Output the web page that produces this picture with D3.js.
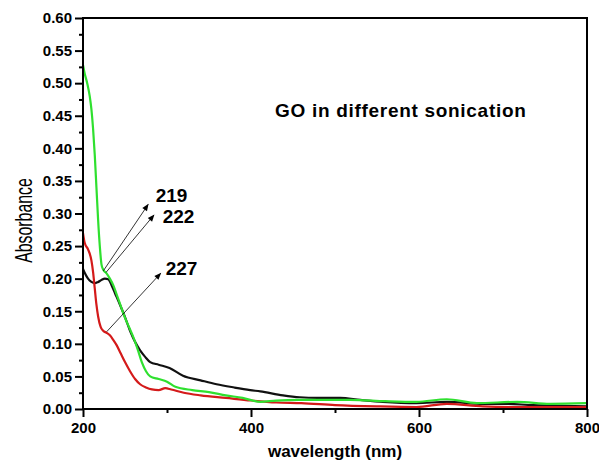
<!DOCTYPE html>
<html>
<head>
<meta charset="utf-8">
<script src="https://cdn.jsdelivr.net/npm/d3@7"></script>
<style>
  body { margin: 0; background: #fff; }
  text { font-family: "Liberation Sans", Arial, sans-serif; }
</style>
</head>
<body>
<div class="chart"></div>
<script>
// wavelength (nm) / absorbance
var blackWl = [200,202,206,210,214,218,222,226,230,234,238,244,250,256,262,268,274,280,290,303,319,340,359,380,399,411,438,458,479,506,530,557,597,633,676,700,736,770,800];
var blackAbs = [0.215,0.209,0.200,0.195,0.193,0.195,0.198,0.200,0.199,0.190,0.178,0.160,0.141,0.120,0.103,0.090,0.080,0.072,0.068,0.063,0.051,0.044,0.038,0.033,0.029,0.027,0.021,0.018,0.017,0.017,0.014,0.011,0.009,0.011,0.008,0.008,0.006,0.005,0.004];

var greenWl = [200,202,205,208,210,212,214,216,218,220,222,224,228,232,236,240,245,250,255,260,265,270,275,280,290,300,310,330,350,370,390,411,430,458,518,560,597,633,669,717,756,800];
var greenAbs = [0.528,0.515,0.500,0.480,0.460,0.430,0.390,0.340,0.290,0.250,0.222,0.214,0.208,0.200,0.190,0.176,0.158,0.140,0.125,0.110,0.092,0.072,0.058,0.050,0.046,0.042,0.034,0.029,0.026,0.021,0.017,0.011,0.013,0.014,0.014,0.012,0.011,0.015,0.009,0.011,0.008,0.009];

var redWl = [200,202,206,210,212,214,216,218,221,224,228,232,236,240,245,250,256,262,268,275,282,290,298,305,320,340,370,400,430,460,500,550,597,633,676,720,760,800];
var redAbs = [0.270,0.255,0.245,0.228,0.210,0.185,0.160,0.142,0.126,0.120,0.117,0.113,0.106,0.098,0.085,0.072,0.058,0.046,0.038,0.033,0.030,0.029,0.032,0.030,0.025,0.021,0.017,0.013,0.010,0.009,0.006,0.004,0.003,0.008,0.004,0.003,0.003,0.003];

var xTicks = [200, 400, 600, 800];
var xMinor = [300, 500, 700];
var yTicks = [0, 0.05, 0.10, 0.15, 0.20, 0.25, 0.30, 0.35, 0.40, 0.45, 0.50, 0.55, 0.60];
var yMinor = [0.025, 0.075, 0.125, 0.175, 0.225, 0.275, 0.325, 0.375, 0.425, 0.475, 0.525, 0.575];

// peak labels: arrow from (wl,abs) on curve to (wl,abs) end, text at (wl,abs)
var peakLabels = ["219", "222", "227"];
var arrowFrom = [[224.2, 0.212], [227.4, 0.2096], [228.2, 0.1186]];
var arrowTo = [[277.6, 0.3139], [284.5, 0.2977], [292.5, 0.2082]];
var labelAt = [[286.6, 0.3175], [294.9, 0.2855], [298.5, 0.2056]];

(function() {
    var width = 599, height = 464;
    var margin = {top: 18, right: 12, bottom: 55, left: 83};
    var w = width - margin.left - margin.right;
    var h = height - margin.top - margin.bottom;

    var root = d3.select(".chart").append("svg")
        .attr("width", width)
        .attr("height", height);

    var defs = root.append("defs");
    defs.append("marker")
        .attr("id", "arrow")
        .attr("viewBox", "0 0 10 10")
        .attr("refX", 9).attr("refY", 5)
        .attr("markerWidth", 9).attr("markerHeight", 7)
        .attr("markerUnits", "userSpaceOnUse")
        .attr("orient", "auto")
        .append("path")
        .attr("d", "M0,1 L10,5 L0,9 Z")
        .attr("fill", "#000");

    var svg = root.append("g")
        .attr("transform", "translate(" + margin.left + "," + margin.top + ")");

    var x = d3.scaleLinear().domain([200, 800]).range([0, w]);
    var y = d3.scaleLinear().domain([0, 0.6]).range([h, 0]);

    // curves
    var line = d3.line()
        .x(function(d) { return x(d[0]) })
        .y(function(d) { return y(d[1]) })
        .curve(d3.curveMonotoneX);

    var series = [
        {wl: blackWl, abs: blackAbs, color: "#111111"},
        {wl: redWl, abs: redAbs, color: "#d41a1a"},
        {wl: greenWl, abs: greenAbs, color: "#2fe02f"}
    ];
    series.forEach(function(s) {
        svg.append("path")
            .datum(d3.zip(s.wl, s.abs))
            .attr("fill", "none")
            .attr("stroke", s.color)
            .attr("stroke-width", 2.2)
            .attr("stroke-linejoin", "round")
            .attr("d", line);
    });

    // frame
    svg.append("rect")
        .attr("width", w).attr("height", h)
        .attr("fill", "none")
        .attr("stroke", "#000")
        .attr("stroke-width", 2);

    // x axis
    svg.append("g")
        .attr("transform", "translate(0," + h + ")")
        .call(d3.axisBottom(x).tickValues(xTicks).tickSize(8).tickPadding(5)
            .tickFormat(d3.format("d")));
    svg.append("g")
        .attr("transform", "translate(0," + h + ")")
        .call(d3.axisBottom(x).tickValues(xMinor).tickSize(4).tickFormat(""));

    // y axis
    svg.append("g")
        .call(d3.axisLeft(y).tickValues(yTicks).tickSize(8).tickPadding(3)
            .tickFormat(d3.format(".2f")));
    svg.append("g")
        .call(d3.axisLeft(y).tickValues(yMinor).tickSize(4).tickFormat(""));

    svg.selectAll(".domain").attr("stroke", "none");
    svg.selectAll(".tick line").attr("stroke", "#000").attr("stroke-width", 2);
    svg.selectAll(".tick text")
        .attr("fill", "#000")
        .style("font-size", "15px")
        .style("font-weight", "bold");

    // axis titles
    svg.append("text")
        .attr("x", w / 2)
        .attr("y", h + 48)
        .attr("text-anchor", "middle")
        .style("font-size", "17px")
        .style("font-weight", "bold")
        .text("wavelength (nm)");

    // the original label is tall and narrow
    svg.append("text")
        .attr("transform", "translate(-51,202.5) rotate(-90) scale(0.66,1)")
        .attr("text-anchor", "middle")
        .style("font-size", "24px")
        .text("Absorbance");

    // title inside plot
    svg.append("text")
        .attr("x", x(428.6))
        .attr("y", 99)
        .style("font-size", "19px")
        .style("font-weight", "bold")
        .style("letter-spacing", "0.7px")
        .text("GO in different sonication");

    // peak arrows and labels
    peakLabels.forEach(function(lbl, i) {
        svg.append("line")
            .attr("x1", x(arrowFrom[i][0])).attr("y1", y(arrowFrom[i][1]))
            .attr("x2", x(arrowTo[i][0])).attr("y2", y(arrowTo[i][1]))
            .attr("stroke", "#000")
            .attr("stroke-width", 0.8)
            .attr("marker-end", "url(#arrow)");
        svg.append("text")
            .attr("x", x(labelAt[i][0]))
            .attr("y", y(labelAt[i][1]))
            .style("font-size", "19px")
            .style("font-weight", "bold")
            .text(lbl);
    });
})();
</script>
</body>
</html>
